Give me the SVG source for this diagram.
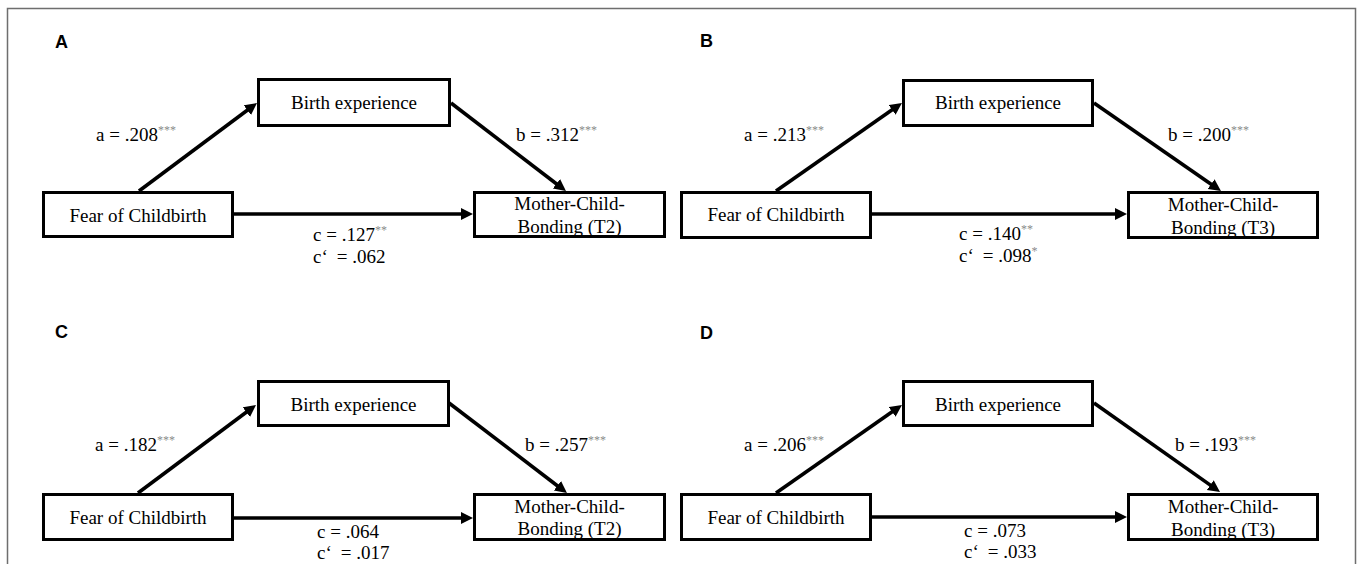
<svg xmlns="http://www.w3.org/2000/svg" width="1357" height="564" viewBox="0 0 1357 564">
<style>
.frame{fill:none;stroke:#6e6e6e;stroke-width:1.5}
.box{fill:#fff;stroke:#000;stroke-width:3}
.t{font-family:"Liberation Serif","Times New Roman",serif;font-size:19px;fill:#000}
.c{text-anchor:middle}
.s{font-size:12px;fill:#8a8a8a}
.p{font-family:"Liberation Sans",Arial,sans-serif;font-size:18px;font-weight:bold;fill:#000}
.ar{stroke:#000;stroke-width:3.6;fill:none;marker-end:url(#ah)}
</style>
<defs>
<marker id="ah" markerUnits="userSpaceOnUse" markerWidth="14" markerHeight="14" refX="4" refY="6" orient="auto">
<path d="M0,0 L12,6 L0,12 z" fill="#000"/>
</marker>
</defs>
<rect width="1357" height="564" fill="#fff"/>
<path class="frame" d="M7.5,564 V8.5 H1355.5 V564"/>

<g id="labels">
<text class="p" x="55" y="48">A</text>
<text class="p" x="700" y="47">B</text>
<text class="p" x="55" y="338">C</text>
<text class="p" x="700" y="339">D</text>
</g>

<g id="connectors">
<line class="ar" x1="139" y1="191" x2="250.6" y2="107.8"/>
<line class="ar" x1="451" y1="103" x2="559.6" y2="186.2"/>
<line class="ar" x1="234" y1="214" x2="465" y2="214"/>

<line class="ar" x1="776" y1="191" x2="895.4" y2="107.6"/>
<line class="ar" x1="1094" y1="103" x2="1214.4" y2="186.4"/>
<line class="ar" x1="872" y1="214" x2="1119" y2="214"/>

<line class="ar" x1="138" y1="493" x2="249.6" y2="409.8"/>
<line class="ar" x1="449" y1="403" x2="560.6" y2="488.2"/>
<line class="ar" x1="234" y1="518" x2="465" y2="518"/>

<line class="ar" x1="776" y1="493" x2="895.4" y2="409.6"/>
<line class="ar" x1="1094" y1="403" x2="1213.5" y2="487.4"/>
<line class="ar" x1="872" y1="517" x2="1119" y2="517"/>
</g>

<g id="A-birth"><rect class="box" x="258.5" y="79.5" width="191" height="46"/><text class="t c" x="354" y="108.5">Birth experience</text></g>
<g id="A-fear"><rect class="box" x="43.5" y="192.5" width="189" height="44"/><text class="t c" x="138" y="221.5">Fear of Childbirth</text></g>
<g id="A-mcb"><rect class="box" x="474.5" y="192.5" width="190" height="44"/><text class="t c" x="569.5" y="210">Mother-Child-</text><text class="t c" x="569.5" y="233">Bonding (T2)</text></g>

<g id="B-birth"><rect class="box" x="903.5" y="80.5" width="189" height="45"/><text class="t c" x="998" y="109">Birth experience</text></g>
<g id="B-fear"><rect class="box" x="681.5" y="192.5" width="189" height="45"/><text class="t c" x="776" y="221">Fear of Childbirth</text></g>
<g id="B-mcb"><rect class="box" x="1128.5" y="192.5" width="189" height="45"/><text class="t c" x="1223" y="210.5">Mother-Child-</text><text class="t c" x="1223" y="233.5">Bonding (T3)</text></g>

<g id="C-birth"><rect class="box" x="258.5" y="381.5" width="190" height="44"/><text class="t c" x="353.5" y="410.5">Birth experience</text></g>
<g id="C-fear"><rect class="box" x="43.5" y="494.5" width="189" height="45"/><text class="t c" x="138" y="524">Fear of Childbirth</text></g>
<g id="C-mcb"><rect class="box" x="474.5" y="494.5" width="190" height="45"/><text class="t c" x="569.5" y="512.5">Mother-Child-</text><text class="t c" x="569.5" y="535">Bonding (T2)</text></g>

<g id="D-birth"><rect class="box" x="903.5" y="381.5" width="189" height="44"/><text class="t c" x="998" y="410.5">Birth experience</text></g>
<g id="D-fear"><rect class="box" x="681.5" y="494.5" width="189" height="45"/><text class="t c" x="776" y="524">Fear of Childbirth</text></g>
<g id="D-mcb"><rect class="box" x="1128.5" y="494.5" width="189" height="45"/><text class="t c" x="1223" y="512.5">Mother-Child-</text><text class="t c" x="1223" y="535.5">Bonding (T3)</text></g>

<g id="edge-labels">
<text class="t" x="96" y="141">a = .208<tspan class="s" dy="-7">***</tspan></text>
<text class="t" x="516" y="141">b = .312<tspan class="s" dy="-7">***</tspan></text>
<text class="t" x="313" y="241">c = .127<tspan class="s" dy="-7">**</tspan></text>
<text class="t" x="313" y="263">c‘<tspan dx="9">= .062</tspan></text>

<text class="t" x="744" y="141">a = .213<tspan class="s" dy="-7">***</tspan></text>
<text class="t" x="1168" y="141">b = .200<tspan class="s" dy="-7">***</tspan></text>
<text class="t" x="959" y="240">c = .140<tspan class="s" dy="-7">**</tspan></text>
<text class="t" x="959" y="262">c‘<tspan dx="9">= .098</tspan><tspan class="s" dy="-7">*</tspan></text>

<text class="t" x="95" y="451">a = .182<tspan class="s" dy="-7">***</tspan></text>
<text class="t" x="525" y="451">b = .257<tspan class="s" dy="-7">***</tspan></text>
<text class="t" x="317" y="537.5">c = .064</text>
<text class="t" x="317" y="559">c‘<tspan dx="9">= .017</tspan></text>

<text class="t" x="744" y="451">a = .206<tspan class="s" dy="-7">***</tspan></text>
<text class="t" x="1175" y="451">b = .193<tspan class="s" dy="-7">***</tspan></text>
<text class="t" x="964" y="536.5">c = .073</text>
<text class="t" x="964" y="558">c‘<tspan dx="9">= .033</tspan></text>
</g>
</svg>
